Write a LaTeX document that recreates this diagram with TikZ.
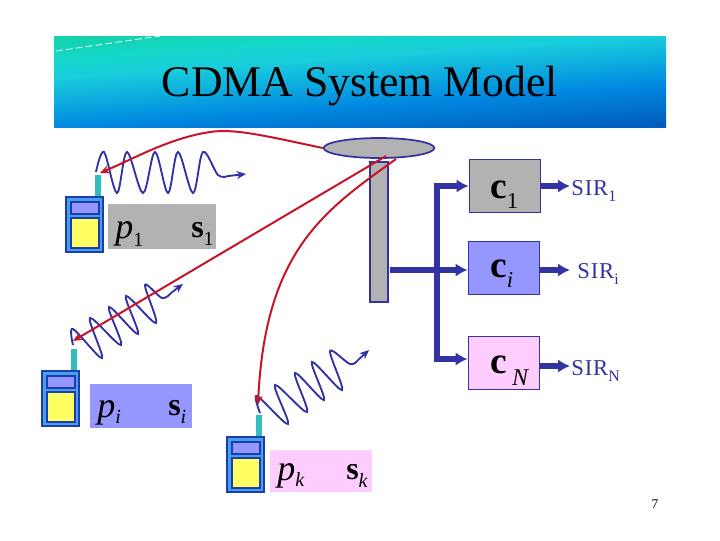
\documentclass[tikz,border=0pt]{standalone}
\usepackage{fontspec}
\setmainfont{Liberation Serif}
\usetikzlibrary{arrows.meta,shapes.geometric}

\definecolor{cablue}{RGB}{50,50,165}
\definecolor{cared}{RGB}{200,20,40}
\definecolor{cagrey}{RGB}{178,178,178}
\definecolor{calilac}{RGB}{150,150,255}
\definecolor{capink}{RGB}{255,204,255}
\definecolor{casky}{RGB}{70,160,240}
\definecolor{cateal}{RGB}{50,190,190}
\definecolor{caframe}{RGB}{30,60,170}
\definecolor{cayellow}{RGB}{255,255,100}
\definecolor{bnra}{RGB}{0,95,190}
\definecolor{bnrb}{RGB}{0,135,225}
\definecolor{bnrc}{RGB}{25,205,220}
\definecolor{bnrd}{RGB}{20,215,200}
\definecolor{bnre}{RGB}{20,210,170}

\pgfdeclareverticalshading{bannershade}{100bp}{color(0bp)=(bnra);color(25bp)=(bnra);color(40bp)=(bnrb);color(60bp)=(bnrc);color(68bp)=(bnrd);color(76bp)=(bnre);color(100bp)=(bnre)}

\newcommand{\subtext}[4]{#1\raisebox{-#4}{\fontsize{#3}{#3}\selectfont #2}}

\tikzset{
  wave/.style={cablue,line width=1.4pt,smooth,tension=0.55},
  waveend/.style={cablue,line width=1.4pt,-{Stealth[length=7pt,width=6pt]}},
  signal/.style={cared,line width=1.5pt,-{Stealth[length=7pt,width=6pt]}},
  tag/.style={draw=none,minimum width=#1*0.75pt,inner sep=0pt},
  plabel/.style={anchor=base west,inner sep=0pt,font=\fontsize{27}{27}\selectfont},
  slabel/.style={anchor=base west,inner sep=0pt,font=\fontsize{24}{24}\selectfont},
  clabel/.style={anchor=base west,inner sep=0pt,font=\fontsize{28}{28}\selectfont},
  codebox/.style={draw=cablue,line width=1.1pt,minimum width=53.5pt,minimum height=40pt,inner sep=0pt},
  bus/.style={cablue,line width=4.4pt},
  busarrow/.style={cablue,line width=4.4pt,-{Latex[length=9pt,width=10pt]}},
  sirlabel/.style={cablue,inner sep=0pt,anchor=base west,font=\fontsize{17}{17}\selectfont\addfontfeature{LetterSpace=4}},
  phone/.pic={
    \begin{scope}[yscale=-1]
    \fill [cateal] (29,-22) rectangle (35,2);
    \draw [caframe,line width=1.5pt,fill=casky] (0,0) rectangle (37,55);
    \draw [caframe,line width=1.3pt,fill=calilac] (5,5) rectangle (33,17);
    \draw [caframe,line width=1.3pt,fill=cayellow] (5,21) rectangle (33,51);
    \end{scope}
  }
}

\begin{document}
\begin{tikzpicture}[x=0.75pt,y=0.75pt,yscale=-1,xscale=1]
\useasboundingbox (0,0) rectangle (720,540);

% banner
\shade [shading=bannershade,shading angle=4] (54,36) rectangle (666,127);
\draw [white,line width=0.6pt,dash pattern=on 5pt off 2.5pt] (56,51) -- (160,36);
\node (title) at (360,86) [inner sep=0pt,font=\fontsize{32.8}{33}\selectfont] {CDMA System Model};

% receiver
\node (pole) at (379,232) [draw=cablue,fill=cagrey,line width=1.1pt,minimum width=13.5pt,minimum height=105pt,inner sep=0pt] {};
\node (dish) at (379,148) [draw=cablue,fill=cagrey,line width=1.3pt,ellipse,minimum width=83pt,minimum height=15pt,inner sep=0pt] {};
\coordinate (feeda) at (386,156);
\coordinate (feedb) at (396,159);

% phones
\pic (pha) at (66,197) {phone};
\pic (phb) at (42,371) {phone};
\pic (phc) at (227,437) {phone};
\coordinate (hita) at (100,173);
\coordinate (hitb) at (73,341);
\coordinate (hitc) at (258,405);

% tags
\node (taga) at (162,226.5) [tag=108,fill=cagrey,minimum height=33.5pt] {};
\node (tagb) at (141,406) [tag=102,fill=calilac,minimum height=33pt] {};
\node (tagc) at (321,471) [tag=102,fill=capink,minimum height=31.5pt] {};
\node (pa) at (115,238) [plabel] {\subtext{\textit{p}}{1}{15}{6pt}};
\node (sa) at (191,237) [slabel] {\subtext{\textbf{s}}{1}{15}{6.5pt}};
\node (pb) at (97,417) [plabel] {\subtext{\textit{p}}{\textit{i}}{15}{4.5pt}};
\node (sb) at (168,415) [slabel] {\subtext{\textbf{s}}{\textit{i}}{15}{6.5pt}};
\node (pc) at (277,480) [plabel] {\subtext{\textit{p}}{\textit{k}}{15}{5pt}};
\node (sc) at (346,479) [slabel] {\subtext{\textbf{s}}{\textit{k}}{15}{6pt}};

% waves
\draw [wave] plot coordinates {(96,172) (104,152) (117,193) (127,152) (143,193) (155,152) (168,193) (178,152) (193,193) (203,152) (218,175) (228,176)};
\draw [waveend] (228,176) -- (246,174);
\draw [wave] plot coordinates {(73,345) (73,329) (102,358) (90,318) (121,345) (109,307) (138,334) (126,296) (156,323) (145,285) (162,298) (171,293)};
\draw [waveend] (171,293) -- (183,284);
\draw [wave] plot coordinates {(260,413) (257,396) (288,424) (275,385) (307,412) (295,373) (324,400) (312,362) (342,390) (330,351) (350,364) (358,360)};
\draw [waveend] (358,360) -- (369,350);

% paths
\draw [signal] (dish.west) .. controls (270,137) and (235,128) .. (210,132) .. controls (170,138) and (135,158) .. (hita);
\draw [signal] (feeda) -- (hitb);
\draw [signal] (feedb) .. controls (325,210) and (265,250) .. (hitc);

% code boxes
\node (cone) at (505,186) [codebox,fill=cagrey] {};
\node (cmid) at (504,268) [codebox,fill=calilac] {};
\node (cend) at (504,363) [codebox,fill=capink] {};
\node (lone) at (490,198) [clabel] {\subtext{\textbf{c}}{1}{17}{8pt}};
\node (lmid) at (490,277) [clabel] {\subtext{\textbf{c}}{\textit{i}}{17}{7.5pt}};
\node (lend) at (490,373) [clabel] {\subtext{\textbf{c}\hspace{4pt}}{\textit{N}}{18}{9pt}};

% outputs
\node (sirone) at (571,195) [sirlabel] {\subtext{SIR}{1}{12}{4.5pt}};
\node (sirmid) at (577,278) [sirlabel] {\subtext{SIR}{i}{12}{4.5pt}};
\node (sirend) at (571,375) [sirlabel] {\subtext{SIR}{N}{12}{4.5pt}};
\coordinate (buson) at (437,186);
\coordinate (buscen) at (437,270);
\coordinate (busoff) at (437,359);
\coordinate (outone) at (570,186);
\coordinate (outmid) at (570,270);
\coordinate (outend) at (570,366);
\draw [bus] (390,270) -- (buscen);
\draw [bus,line cap=rect] (buson) -- (busoff);
\draw [busarrow] (buson) -- (cone.west |- buson);
\draw [busarrow] (buscen) -- (cmid.west |- buscen);
\draw [busarrow] (busoff) -- (cend.west |- busoff);
\draw [busarrow] (cone.east |- outone) -- (outone);
\draw [busarrow] (cmid.east |- outmid) -- (outmid);
\draw [busarrow] (cend.east |- outend) -- (outend);

% page number
\node (page) at (655,504) [inner sep=0pt,font=\fontsize{10}{10}\selectfont] {7};
\end{tikzpicture}
\end{document}
